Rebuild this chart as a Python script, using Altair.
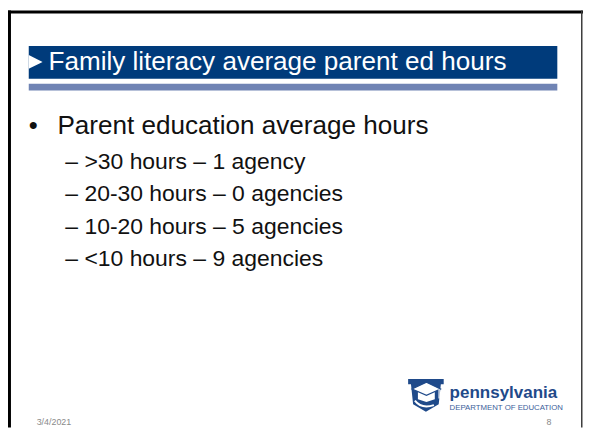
import altair as alt
import pandas as pd

# ---- slide content ----
slide_title = "Family literacy average parent ed hours"
main_bullet = "Parent education average hours"
hour_ranges = [">30 hours", "20-30 hours", "10-20 hours", "<10 hours"]
agency_counts = [1, 0, 5, 9]
agency_units = ["agency", "agencies", "agencies", "agencies"]
footer_date = "3/4/2021"
page_number = "8"
logo_name = "pennsylvania"
logo_sub = "DEPARTMENT OF EDUCATION"

FONT = "Liberation Sans"
W, H = 582, 422
NAVY = "#003B7B"
LIGHT = "#7084B4"
LOGO_BLUE = "#1F4A8A"

sub_df = pd.DataFrame({
    "row": list(range(len(hour_ranges))),
    "label": [f"\u2013 {r} \u2013 {n} {u}" for r, n, u in zip(hour_ranges, agency_counts, agency_units)],
})
one = pd.DataFrame({"k": [0]})
base = alt.Chart(one)


def rect(x, x2, y, y2, color):
    return base.mark_rect(color=color).encode(
        x=alt.value(x), x2=alt.value(x2), y=alt.value(y), y2=alt.value(y2)
    )


def text(t, x, y, size, color, weight="normal", align="left"):
    return base.mark_text(
        text=t, font=FONT, fontSize=size, color=color, fontWeight=weight,
        align=align, baseline="alphabetic"
    ).encode(x=alt.value(x), y=alt.value(y))


def shape(path, x, y, size, color, filled=True, stroke=None, sw=0):
    kw = dict(shape=path, size=size, filled=filled, opacity=1)
    if filled:
        kw["fill"] = color
        kw["fillOpacity"] = 1
        if stroke:
            kw["stroke"] = stroke
            kw["strokeWidth"] = sw
        else:
            kw["strokeWidth"] = 0
    else:
        kw["stroke"] = color
        kw["strokeWidth"] = sw
    return base.mark_point(**kw).encode(x=alt.value(x), y=alt.value(y))


layers = []
# slide frame
layers.append(rect(0, 3, 0, H, "#000000"))
layers.append(rect(0, W, 0, 3, "#000000"))
layers.append(rect(580, 581.5, 0, H, "#3a3a3a"))

# title bar
layers.append(rect(21, 556, 36, 69, NAVY))
layers.append(rect(21, 556, 74, 81, LIGHT))
layers.append(shape("M -1 -1 L 1 0 L -1 1 Z", 28, 52, 196, "#ffffff"))
layers.append(text(slide_title, 41, 60, 26.4, "#ffffff"))

# bullets
layers.append(text("\u2022", 21, 125, 26, "#111111"))
layers.append(text(main_bullet, 50, 125, 26.4, "#111111"))
layers.append(
    alt.Chart(sub_df).mark_text(
        font=FONT, fontSize=23.2, align="left", baseline="alphabetic", color="#111111"
    ).encode(
        x=alt.value(58),
        y=alt.Y("row:Q", scale=alt.Scale(domain=[0, 3], range=[160, 259]), axis=None),
        text="label:N",
    )
)

# logo (keystone with mortarboard)
KX, KY, KS = 423, 389.5, 1296
keystone = ("M -1 -0.917 L 1 -0.917 L 1 -0.62 L 0.84 -0.62 L 0.72 0.5 "
            "L 0 0.917 L -0.72 0.5 L -0.84 -0.62 L -1 -0.62 Z")
cap_base = "M -0.45 -0.2 L 0.5 -0.2 L 0.5 0.22 L 0.03 0.38 L -0.45 0.22 Z"
cap_top = "M -0.78 -0.36 L 0.03 -0.74 L 0.82 -0.36 L 0.03 0.0 Z"
tassel = "M 0.74 -0.36 L 0.74 0.18"
swoosh = "M -0.62 0.3 Q -0.25 0.78 0.45 0.55"
layers.append(shape(keystone, KX, KY, KS, LOGO_BLUE))
layers.append(shape(cap_base, KX, KY, KS, "#ffffff"))
layers.append(shape(cap_top, KX, KY, KS, "#ffffff", stroke=LOGO_BLUE, sw=1.2))
layers.append(shape(tassel, KX, KY, KS, "#ffffff", filled=False, sw=1.2))
layers.append(shape(swoosh, KX, KY, KS, "#ffffff", filled=False, sw=2))
layers.append(text(logo_name, 447, 392, 17.2, LOGO_BLUE, weight="bold"))
layers.append(text(logo_sub, 447, 404, 7.9, "#3B5E9A"))

# footer
layers.append(text(footer_date, 29, 420, 9, "#8a8a8a"))
layers.append(text(page_number, 550, 420, 9, "#8a8a8a", align="right"))

chart = alt.layer(*layers).properties(
    width=W, height=H, padding=0,
    autosize=alt.AutoSizeParams(type="none"),
    background="#ffffff",
).configure_view(stroke=None)

chart.save("out.html", embed_options={"renderer": "svg", "actions": False})
